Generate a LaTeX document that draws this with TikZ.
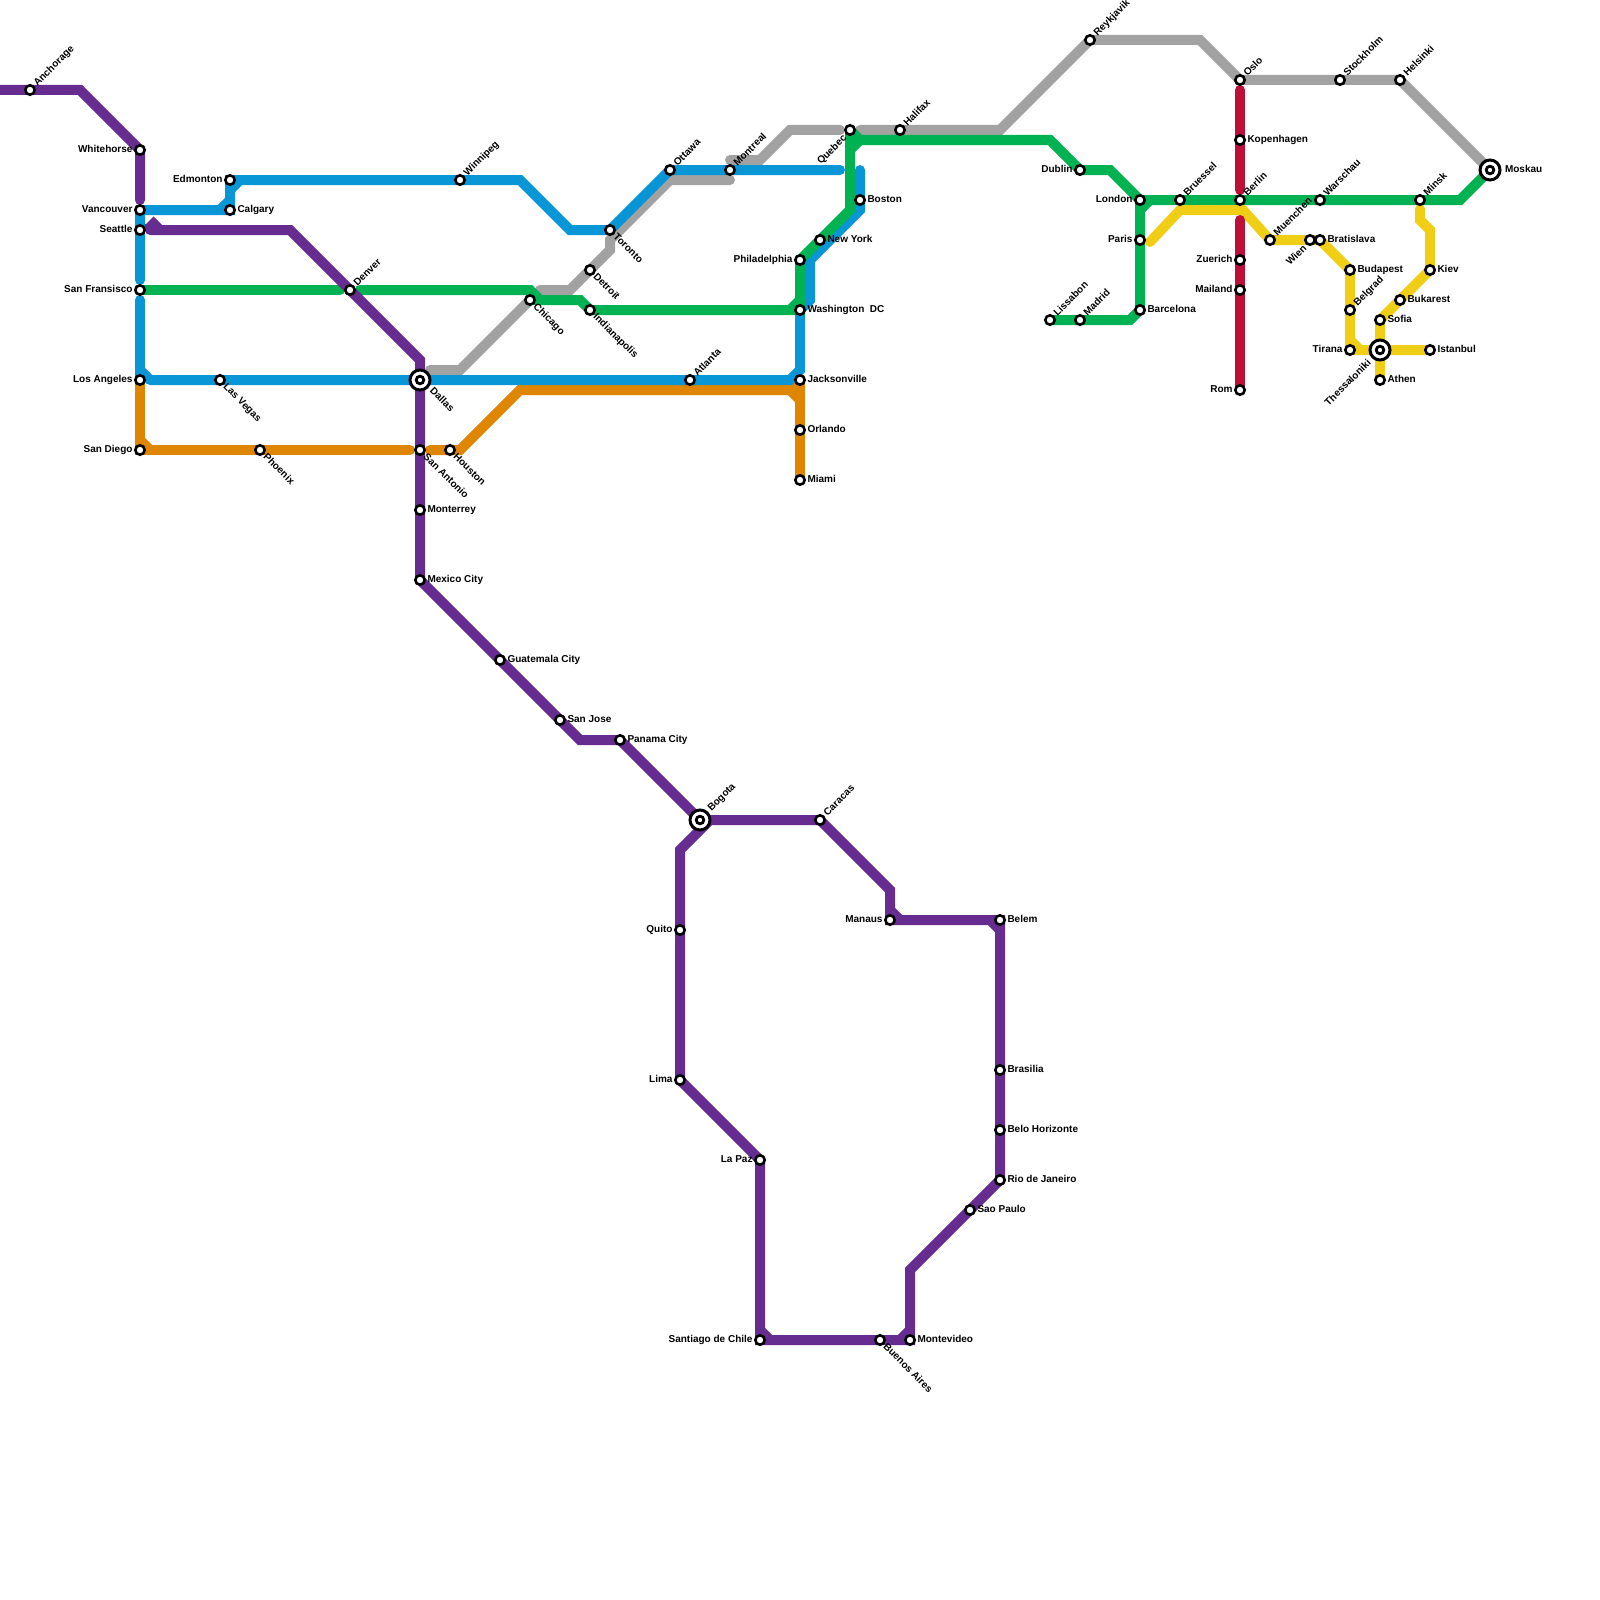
\documentclass[tikz,border=0pt]{standalone}
\usepackage{fontspec}
\setmainfont{Liberation Sans}
\definecolor{cPurple}{HTML}{662C90}
\definecolor{cBlue}{HTML}{0896D7}
\definecolor{cGreen}{HTML}{00B251}
\definecolor{cOrange}{HTML}{DF8600}
\definecolor{cGrey}{HTML}{A2A2A2}
\definecolor{cYellow}{HTML}{F0CE15}
\definecolor{cRed}{HTML}{BD1038}
\pgfdeclarelayer{lines}
\pgfsetlayers{lines,main}
\tikzset{
  ln/.style={line width=5pt,line cap=round,line join=miter,miter limit=10},
  elb/.style={line width=5pt,line cap=butt},
  stn/.style={circle,draw=black,fill=white,line width=1.3pt,minimum size=4.7pt,inner sep=0pt},
  hubin/.style={circle,draw=black,fill=white,line width=1.4pt,minimum size=3.8pt,inner sep=0pt},
  hubring/.style={circle,draw=black,fill=white,line width=1.5pt,minimum size=10pt,inner sep=0pt},
  lbl/.style={inner sep=0pt,outer sep=0pt,text height=3.6pt,text depth=0pt,font=\fontsize{5}{6}\selectfont\bfseries,text=black},
}
\newcommand{\lab}[4]{\node[lbl,#3] (#1t) at ([shift={(#2)}]#1.center) {#4};}
\newcommand{\stR}[3]{\node[stn] (#1) at (#2) {};\lab{#1}{7.5,-1}{anchor=west}{#3}}
\newcommand{\stL}[3]{\node[stn] (#1) at (#2) {};\lab{#1}{-7.5,-1}{anchor=east}{#3}}
\newcommand{\stU}[3]{\node[stn] (#1) at (#2) {};\lab{#1}{5,-6}{anchor=west,rotate=45}{#3}}
\newcommand{\stD}[3]{\node[stn] (#1) at (#2) {};\lab{#1}{5.5,5}{anchor=west,rotate=-45}{#3}}
\newcommand{\stW}[3]{\node[stn] (#1) at (#2) {};\lab{#1}{-5.5,6.5}{anchor=east,rotate=45}{#3}}
\newcommand{\hub}[2]{\node[hubring] (#1r) at (#2) {};\node[hubin] (#1) at (#2) {};}
\begin{document}
\begin{tikzpicture}[x=0.5pt,y=-0.5pt]
\useasboundingbox (0,0) rectangle (1600,1600);
% North America
\stU{anc}{30,90}{Anchorage}
\stL{whi}{140,150}{Whitehorse}
\stL{van}{140,210}{Vancouver}
\stL{sea}{140,230}{Seattle}
\stL{sfo}{140,290}{San Fransisco}
\stL{lax}{140,380}{Los Angeles}
\stL{sdg}{140,450}{San Diego}
\stL{edm}{230,180}{Edmonton}
\stR{cal}{230,210}{Calgary}
\stU{win}{460,180}{Winnipeg}
\stD{veg}{220,380}{Las Vegas}
\stD{pho}{260,450}{Phoenix}
\stU{den}{350,290}{Denver}
\hub{dal}{420,380}\lab{dal}{12,9}{anchor=west,rotate=-45}{Dallas}
\stD{san}{420,450}{San Antonio}
\stD{hou}{450,450}{Houston}
\stR{mon}{420,510}{Monterrey}
\stR{mex}{420,580}{Mexico City}
\stR{gua}{500,660}{Guatemala City}
\stR{sjo}{560,720}{San Jose}
\stR{pan}{620,740}{Panama City}
\hub{bog}{700,820}\lab{bog}{9,-11}{anchor=west,rotate=45}{Bogota}
\stU{car}{820,820}{Caracas}
\stL{qui}{680,930}{Quito}
\stL{lim}{680,1080}{Lima}
\stL{paz}{760,1160}{La Paz}
\stL{sch}{760,1340}{Santiago de Chile}
\stD{bue}{880,1340}{Buenos Aires}
\stR{mvd}{910,1340}{Montevideo}
\stR{sao}{970,1210}{Sao Paulo}
\stR{rio}{1000,1180}{Rio de Janeiro}
\stR{bra}{1000,1070}{Brasilia}
\stR{bel}{1000,1130}{Belo Horizonte}
\stR{blm}{1000,920}{Belem}
\stL{man}{890,920}{Manaus}
\stD{chi}{530,300}{Chicago}
\stD{det}{590,270}{Detroit}
\stD{tor}{610,230}{Toronto}
\stD{ind}{590,310}{Indianapolis}
\stU{ott}{670,170}{Ottawa}
\stU{mtl}{730,170}{Montreal}
\stW{que}{850,130}{Quebec}
\stU{hal}{900,130}{Halifax}
\stR{bos}{860,200}{Boston}
\stR{nyc}{820,240}{New York}
\stL{phi}{800,260}{Philadelphia}
\stR{was}{800,310}{Washington\ \ DC}
\stR{jac}{800,380}{Jacksonville}
\stR{orl}{800,430}{Orlando}
\stR{mia}{800,480}{Miami}
\stU{atl}{690,380}{Atlanta}
% Europe
\stU{rey}{1090,40}{Reykjavik}
\stU{osl}{1240,80}{Oslo}
\stU{sto}{1340,80}{Stockholm}
\stU{hel}{1400,80}{Helsinki}
\hub{mos}{1490,170}\lab{mos}{15,-1}{anchor=west}{Moskau}
\stR{kop}{1240,140}{Kopenhagen}
\stU{ber}{1240,200}{Berlin}
\stU{bru}{1180,200}{Bruessel}
\stL{lon}{1140,200}{London}
\stL{dub}{1080,170}{Dublin}
\stL{par}{1140,240}{Paris}
\stR{bar}{1140,310}{Barcelona}
\stU{lis}{1050,320}{Lissabon}
\stU{mad}{1080,320}{Madrid}
\stL{zue}{1240,260}{Zuerich}
\stL{mai}{1240,290}{Mailand}
\stL{rom}{1240,390}{Rom}
\stU{mue}{1270,240}{Muenchen}
\stW{wie}{1310,240}{Wien}
\stR{brt}{1320,240}{Bratislava}
\stU{war}{1320,200}{Warschau}
\stU{min}{1420,200}{Minsk}
\stR{bud}{1350,270}{Budapest}
\stU{bgr}{1350,310}{Belgrad}
\stL{tir}{1350,350}{Tirana}
\hub{the}{1380,350}\lab{the}{-11,11}{anchor=east,rotate=45}{Thessaloniki}
\stR{ath}{1380,380}{Athen}
\stR{sof}{1380,320}{Sofia}
\stR{ist}{1430,350}{Istanbul}
\stR{kie}{1430,270}{Kiev}
\stR{buk}{1400,300}{Bukarest}
\begin{pgfonlayer}{lines}
\fill[white] (0,0) rectangle (1600,1600);
% grey
\draw[ln,cGrey] (430,370) -- (460,370) -- (chi.center);
\draw[ln,cGrey] (540,290) -- (570,290) -- (610,250) -- (610,240) -- (670,180) -- (730,180);
\draw[ln,cGrey] (730,160) -- (760,160) -- (790,130) -- (840,130);
\draw[ln,cGrey] (860,130) -- (1000,130) -- (rey.center) -- (1200,40) -- (osl.center) -- (hel.center) -- (1482,162);
% orange
\draw[ln,cOrange] (lax.center) -- (sdg.center) -- (410,450);
\draw[elb,cOrange] (140,440) -- (150,450);
\draw[ln,cOrange] (430,450) -- (460,450) -- (520,390) -- (790,390) -- (800,400);
\draw[ln,cOrange] (jac.center) -- (mia.center);
\draw[elb,cOrange] (790,390) -- (800,380);
% blue
\draw[ln,cBlue] (van.center) -- (140,280);
\draw[ln,cBlue] (van.center) -- (cal.center) -- (edm.center) -- (520,180) -- (570,230) -- (tor.center) -- (ott.center) -- (840,170);
\draw[elb,cBlue] (220,210) -- (230,200);
\draw[elb,cBlue] (230,190) -- (240,180);
\draw[ln,cBlue] (140,300) -- (lax.center);
\draw[elb,cBlue] (140,370) -- (150,380);
\draw[ln,cBlue] (150,380) -- (790,380) -- (800,370) -- (was.center) -- (810,300) -- (810,260) -- (860,210) -- (860,170);
% green
\draw[ln,cGreen] (sfo.center) -- (340,290);
\draw[ln,cGreen] (360,290) -- (530,290) -- (540,300) -- (580,300) -- (ind.center) -- (790,310) -- (800,300) -- (phi.center) -- (850,210) -- (que.center);
\draw[ln,cGreen] (chi.center) -- (540,300);
\draw[ln,cGreen] (ind.center) -- (was.center) -- (800,300);
\draw[ln,cGreen] (que.center) -- (860,140) -- (1050,140) -- (dub.center) -- (1110,170) -- (lon.center) -- (1460,200) -- (mos.center);
\draw[elb,cGreen] (850,150) -- (860,140);
\draw[ln,cGreen] (lon.center) -- (bar.center) -- (1130,320) -- (lis.center);
\draw[elb,cGreen] (1140,210) -- (1150,200);
% yellow
\draw[ln,cYellow] (1150,242) -- (1180,210) -- (1243,210) -- (mue.center) -- (brt.center) -- (bud.center) -- (tir.center) -- (ist.center);
\draw[elb,cYellow] (1350,340) -- (1360,350);
\draw[ln,cYellow] (sof.center) -- (ath.center);
\draw[ln,cYellow] (sof.center) -- (kie.center) -- (1430,230) -- (1420,220) -- (1420,209);
% red
\draw[ln,cRed] (1240,90) -- (1240,190);
\draw[ln,cRed] (1240,220) -- (rom.center);
% purple
\draw[ln,cPurple] (-10,90) -- (80,90) -- (whi.center) -- (140,200);
\draw[ln,cPurple] (150,230) -- (290,230) -- (420,360) -- (mex.center) -- (580,740) -- (pan.center) -- (bog.center) -- (car.center) -- (890,890) -- (man.center) -- (blm.center) -- (rio.center) -- (910,1270) -- (mvd.center) -- (sch.center) -- (paz.center) -- (lim.center) -- (680,850) -- (710,820);
\draw[ln,cPurple,line cap=butt] (150,230) -- (150,224);
\draw[elb,cPurple] (150,220) -- (160,230);
\draw[elb,cPurple] (890,910) -- (900,920);
\draw[elb,cPurple] (990,920) -- (1000,930);
\draw[elb,cPurple] (760,1330) -- (770,1340);
\draw[elb,cPurple] (900,1340) -- (910,1330);
\end{pgfonlayer}
\end{tikzpicture}
\end{document}
